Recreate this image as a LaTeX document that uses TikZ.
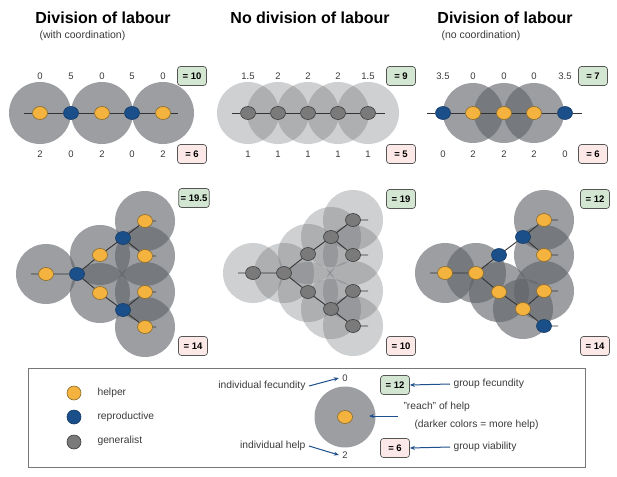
\documentclass[tikz,border=0pt]{standalone}
\usepackage{fontspec}
\setmainfont{Liberation Sans}
\usetikzlibrary{shapes.geometric,arrows.meta}

\definecolor{helperfill}{HTML}{F4B23E}
\definecolor{helperline}{HTML}{8A6A2A}
\definecolor{reprofill}{HTML}{1B4F8A}
\definecolor{reproline}{HTML}{143A66}
\definecolor{genfill}{HTML}{7A7A7A}
\definecolor{genline}{HTML}{3C3C3C}
\definecolor{reachgray}{HTML}{5F6368}
\definecolor{linkcol}{HTML}{333333}
\definecolor{numcol}{HTML}{3A3A3A}
\definecolor{fecfill}{HTML}{D3E6D1}
\definecolor{viabfill}{HTML}{FCE8E6}
\definecolor{boxline}{HTML}{555555}
\definecolor{arrowcol}{HTML}{1F4E8C}

\begin{document}
\begin{tikzpicture}[x=1pt,y=-1pt,
    helper/.style={ellipse,draw=helperline,fill=helperfill,line width=0.6pt,
      minimum width=15pt,minimum height=13pt,inner sep=0pt},
    repro/.style={helper,draw=reproline,fill=reprofill},
    gen/.style={helper,draw=genline,fill=genfill},
    reach/.style={fill=reachgray,fill opacity=0.62},
    lowreach/.style={fill=reachgray,fill opacity=0.3},
    link/.style={draw=linkcol,line width=0.9pt},
    num/.style={text=numcol,font=\fontsize{9.5}{11}\selectfont},
    score/.style={draw=boxline,line width=0.7pt,rounded corners=3pt,minimum width=29pt,
      minimum height=19pt,inner sep=2pt,font=\fontsize{9.5}{11}\selectfont\bfseries},
    fec/.style={score,fill=fecfill},
    viab/.style={score,fill=viabfill},
    title/.style={font=\fontsize{16}{19}\selectfont\bfseries},
    subtitle/.style={anchor=west,text=numcol,font=\fontsize{10.5}{12}\selectfont},
    legtext/.style={text=numcol,font=\fontsize{10.3}{12}\selectfont},
    legdot/.style={circle,line width=0.6pt,minimum size=14pt,inner sep=0pt},
    legarrow/.style={draw=arrowcol,line width=1pt,-{Stealth[length=5pt,width=4pt]}}
  ]
  \useasboundingbox (0,0) rectangle (617,476);

  % Top row, left: division of labour with coordination
  \node[title] (t1) at (103,18) {Division of labour};
  \node[subtitle] (s1) at (36,36) {(with coordination)};
  \foreach \x in {40,102,163} \fill[reach] (\x,113) circle (31pt);
  \coordinate (a0) at (24,113);
  \node[helper] (a1) at (40,113) {};
  \node[repro] (a2) at (71,113) {};
  \node[helper] (a3) at (102,113) {};
  \node[repro] (a4) at (132,113) {};
  \node[helper] (a5) at (163,113) {};
  \coordinate (a6) at (178,113);
  \draw[link] (a0) -- (a1) -- (a2) -- (a3) -- (a4) -- (a5) -- (a6);
  \foreach \x/\v in {40/0,71/5,102/0,132/5,163/0} \node[num] (au\x) at (\x,76) {\v};
  \foreach \x/\v in {40/2,71/0,102/2,132/0,163/2} \node[num] (ad\x) at (\x,154) {\v};
  \node[fec] (af) at (192,76) {= 10};
  \node[viab] (av) at (192,154) {= 6};

  % Top row, middle: no division of labour
  \node[title] (t2) at (310,18) {No division of labour};
  \foreach \x in {248,278,308,338,368} \fill[lowreach] (\x,113) circle (31pt);
  \coordinate (b0) at (232,113);
  \node[gen] (b1) at (248,113) {};
  \node[gen] (b2) at (278,113) {};
  \node[gen] (b3) at (308,113) {};
  \node[gen] (b4) at (338,113) {};
  \node[gen] (b5) at (368,113) {};
  \coordinate (b6) at (385,113);
  \draw[link] (b0) -- (b1) -- (b2) -- (b3) -- (b4) -- (b5) -- (b6);
  \foreach \x/\v in {248/1.5,278/2,308/2,338/2,368/1.5} \node[num] (bu\x) at (\x,76) {\v};
  \foreach \x in {248,278,308,338,368} \node[num] (bd\x) at (\x,154) {1};
  \node[fec] (bf) at (401,76) {= 9};
  \node[viab] (bv) at (401,154) {= 5};

  % Top row, right: division of labour without coordination
  \node[title] (t3) at (505,18) {Division of labour};
  \node[subtitle] (s3) at (438,36) {(no coordination)};
  \foreach \x in {473,504,534} \fill[reach] (\x,113) circle (30pt);
  \coordinate (c0) at (427,113);
  \node[repro] (c1) at (443,113) {};
  \node[helper] (c2) at (473,113) {};
  \node[helper] (c3) at (504,113) {};
  \node[helper] (c4) at (534,113) {};
  \node[repro] (c5) at (565,113) {};
  \coordinate (c6) at (582,113);
  \draw[link] (c0) -- (c1) -- (c2) -- (c3) -- (c4) -- (c5) -- (c6);
  \foreach \x/\v in {443/3.5,473/0,504/0,534/0,565/3.5} \node[num] (cu\x) at (\x,76) {\v};
  \foreach \x/\v in {443/0,473/2,504/2,534/2,565/0} \node[num] (cd\x) at (\x,154) {\v};
  \node[fec] (cf) at (593,76) {= 7};
  \node[viab] (cv) at (593,154) {= 6};

  % Bottom row, left tree
  \begin{scope}[shift={(46,274)}]
    \foreach \p in {(0,0),(54,-19),(54,19),(99,-53),(99,-18),(99,18),(99,53)}
      \fill[reach] \p circle (30pt);
    \coordinate (l0) at (-15,0);
    \node[helper] (l1) at (0,0) {};
    \node[repro] (l2) at (31,0) {};
    \node[helper] (l3) at (54,-19) {};
    \node[repro] (l4) at (77,-36) {};
    \node[helper] (l5) at (99,-53) {};
    \node[helper] (l6) at (99,-18) {};
    \node[helper] (l7) at (54,19) {};
    \node[repro] (l8) at (77,36) {};
    \node[helper] (l9) at (99,18) {};
    \node[helper] (l10) at (99,53) {};
    \coordinate (le5) at (110,-53);
    \coordinate (le6) at (110,-18);
    \coordinate (le9) at (110,18);
    \coordinate (le10) at (110,53);
  \end{scope}
  \draw[link] (l0) -- (l1) -- (l2) -- (l3) -- (l4) -- (l5) -- (le5);
  \draw[link] (l4) -- (l6) -- (le6);
  \draw[link] (l2) -- (l7) -- (l8) -- (l9) -- (le9);
  \draw[link] (l8) -- (l10) -- (le10);
  \node[fec] (lf) at (194,198) {= 19.5};
  \node[viab] (lv) at (193,346) {= 14};

  % Bottom row, middle tree
  \begin{scope}[shift={(253,273)}]
    \foreach \p in {(0,0),(31,0),(55,-19),(78,-36),(100,-53),(100,-18),
                    (55,19),(78,36),(100,18),(100,53)}
      \fill[lowreach] \p circle (30pt);
    \coordinate (m0) at (-15,0);
    \node[gen] (m1) at (0,0) {};
    \node[gen] (m2) at (31,0) {};
    \node[gen] (m3) at (55,-19) {};
    \node[gen] (m4) at (78,-36) {};
    \node[gen] (m5) at (100,-53) {};
    \node[gen] (m6) at (100,-18) {};
    \node[gen] (m7) at (55,19) {};
    \node[gen] (m8) at (78,36) {};
    \node[gen] (m9) at (100,18) {};
    \node[gen] (m10) at (100,53) {};
    \coordinate (me5) at (115,-53);
    \coordinate (me6) at (115,-18);
    \coordinate (me9) at (115,18);
    \coordinate (me10) at (115,53);
  \end{scope}
  \draw[link] (m0) -- (m1) -- (m2) -- (m3) -- (m4) -- (m5) -- (me5);
  \draw[link] (m4) -- (m6) -- (me6);
  \draw[link] (m2) -- (m7) -- (m8) -- (m9) -- (me9);
  \draw[link] (m8) -- (m10) -- (me10);
  \node[fec] (mf) at (401,199) {= 19};
  \node[viab] (mv) at (401,346) {= 10};

  % Bottom row, right tree
  \begin{scope}[shift={(445,273)}]
    \foreach \p in {(0,0),(31,0),(54,19),(78,36),(99,-53),(99,-18),(99,18)}
      \fill[reach] \p circle (30pt);
    \coordinate (r0) at (-15,0);
    \node[helper] (r1) at (0,0) {};
    \node[helper] (r2) at (31,0) {};
    \node[repro] (r3) at (54,-18) {};
    \node[repro] (r4) at (78,-36) {};
    \node[helper] (r5) at (99,-53) {};
    \node[helper] (r6) at (99,-18) {};
    \node[helper] (r7) at (54,19) {};
    \node[helper] (r8) at (78,36) {};
    \node[helper] (r9) at (99,18) {};
    \node[repro] (r10) at (99,53) {};
    \coordinate (re5) at (113,-53);
    \coordinate (re6) at (113,-18);
    \coordinate (re9) at (113,18);
    \coordinate (re10) at (113,53);
  \end{scope}
  \draw[link] (r0) -- (r1) -- (r2) -- (r3) -- (r4) -- (r5) -- (re5);
  \draw[link] (r4) -- (r6) -- (re6);
  \draw[link] (r2) -- (r7) -- (r8) -- (r9) -- (re9);
  \draw[link] (r8) -- (r10) -- (re10);
  \node[fec] (rf) at (595,199) {= 12};
  \node[viab] (rv) at (595,346) {= 14};

  % Legend
  \draw[draw=boxline!80,line width=1pt] (28,368) rectangle (585,467);
  \node[legdot,draw=helperline,fill=helperfill] (kh) at (74,393) {};
  \node[legdot,draw=reproline,fill=reprofill] (kr) at (74,417) {};
  \node[legdot,draw=genline,fill=genfill] (kg) at (74,442) {};
  \node[legtext,anchor=west] (khl) at (94,393) {helper};
  \node[legtext,anchor=west] (krl) at (94,417) {reproductive};
  \node[legtext,anchor=west] (kgl) at (94,441) {generalist};

  \fill[reach] (345,417) circle (30.5pt);
  \node[helper] (kx) at (345,417) {};
  \node[legtext,anchor=east] (kfec) at (309,386) {individual fecundity};
  \node[legtext,anchor=east] (khelp) at (309,446) {individual help};
  \node[num] (kzero) at (345,378) {0};
  \node[num] (ktwo) at (345,455) {2};
  \draw[legarrow] (kfec.east) -- (kzero.west);
  \draw[legarrow] (khelp.east) -- (ktwo.west);

  \node[fec] (kf) at (395,385) {= 12};
  \node[viab] (kv) at (395,448) {= 6};
  \node[legtext,anchor=west] (kgf) at (450,384) {group fecundity};
  \node[legtext,anchor=west] (kgv) at (450,447) {group viability};
  \draw[legarrow] (kgf.west) -- (kf.east);
  \draw[legarrow] (kgv.west) -- (kv.east);

  \node[legtext,anchor=west] (kreach) at (400,407) {"reach" of help};
  \node[legtext,anchor=west] (kdark) at (411,425) {(darker colors = more help)};
  \coordinate (kra) at (398,416);
  \coordinate (krb) at (369,416);
  \draw[legarrow] (kra) -- (krb);
\end{tikzpicture}
\end{document}
